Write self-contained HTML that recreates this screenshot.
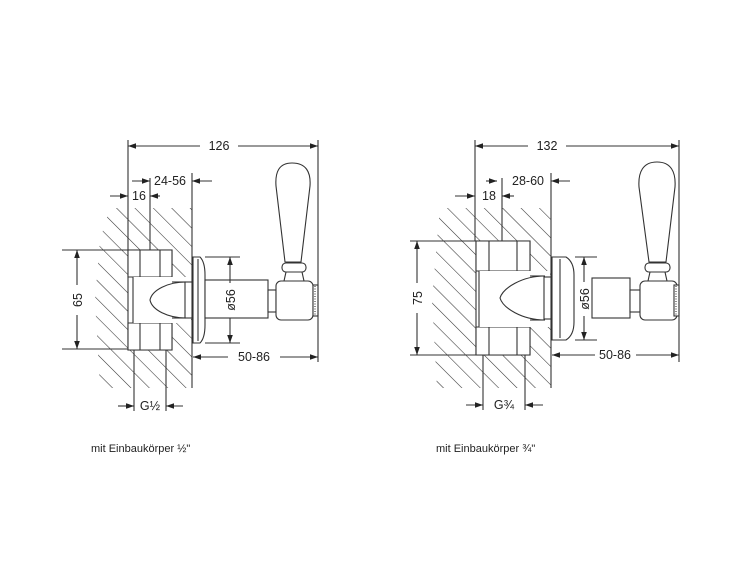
<!DOCTYPE html>
<html><head><meta charset="utf-8"><style>
html,body{margin:0;padding:0;background:#fff;}
svg{display:block;}
text{font-family:"Liberation Sans",Arial,sans-serif;fill:#222;}
</style></head><body>
<svg width="750" height="563" viewBox="0 0 750 563" xmlns="http://www.w3.org/2000/svg">
<defs>
<pattern id="h" patternUnits="userSpaceOnUse" width="13" height="13" patternTransform="rotate(-45)">
<line x1="0" y1="0" x2="0" y2="13" stroke="#333" stroke-width="1.1"/>
</pattern>
<marker id="a" viewBox="0 0 10 10" refX="10" refY="5" markerWidth="8" markerHeight="8" orient="auto-start-reverse" markerUnits="userSpaceOnUse">
<path d="M0,1.5 L10,5 L0,8.5 z" fill="#222"/>
</marker>
</defs>
<g stroke="#333" stroke-width="1.1" fill="none">

<!-- ===== LEFT ===== -->
<polygon points="110,208 192,208 192,388 100,388 95,300 100,240" fill="url(#h)" stroke="none"/>
<line x1="192" y1="173" x2="192" y2="388"/>
<rect x="128" y="250" width="44" height="100" fill="#fff"/>
<path d="M128,250 L172,250 L172,277 L128,277 z M128,323 L172,323 L172,350 L128,350 z" fill="#fff"/>
<path d="M140,250 L140,277 M160,250 L160,277 M140,323 L140,350 M160,323 L160,350"/>
<rect x="133" y="277" width="58" height="46" fill="#fff" stroke="none"/>
<line x1="133" y1="277" x2="133" y2="323"/>
<line x1="172" y1="282" x2="186" y2="282"/><line x1="172" y1="318" x2="186" y2="318"/>
<path d="M186,282 C168,282 152,290 150,300 C152,310 168,318 186,318" fill="#fff"/>
<rect x="185" y="282" width="7" height="36" fill="#fff"/>
<path d="M193,257 L200,257 Q205,262 205,275 L205,325 Q205,338 200,343 L193,343 z" fill="#fff"/>
<line x1="198" y1="259" x2="198" y2="341"/>
<rect x="205" y="280" width="63" height="38" fill="#fff"/>
<rect x="268" y="290" width="8" height="22" fill="#fff"/>
<rect x="276" y="281" width="37" height="39" rx="5" fill="#fff"/>
<rect x="313" y="285" width="5" height="31" fill="#fff"/>
<line x1="315" y1="286" x2="315" y2="315" stroke-dasharray="1,1.5"/>
<path d="M292,163 C279,163 275,172 276,186 L285,262 L301,262 L310,186 C311,172 306,163 292,163 z" fill="#fff"/>
<rect x="282" y="263" width="24" height="9" rx="4" fill="#fff"/>
<path d="M286,272 L284,281 M302,272 L304,281"/>
<line x1="128" y1="140" x2="128" y2="250"/>
<line x1="318" y1="140" x2="318" y2="362"/>
<line x1="128" y1="146" x2="200" y2="146" marker-start="url(#a)"/>
<line x1="238" y1="146" x2="318" y2="146" marker-end="url(#a)"/>
<line x1="150" y1="178" x2="150" y2="250"/>
<line x1="132" y1="181" x2="150" y2="181" marker-end="url(#a)"/>
<line x1="212" y1="181" x2="192" y2="181" marker-end="url(#a)"/>
<line x1="110" y1="196" x2="128" y2="196" marker-end="url(#a)"/>
<line x1="160" y1="196" x2="150" y2="196" marker-end="url(#a)"/>
<line x1="62" y1="250" x2="128" y2="250"/><line x1="62" y1="349" x2="128" y2="349"/>
<line x1="77" y1="250" x2="77" y2="285" marker-start="url(#a)"/>
<line x1="77" y1="315" x2="77" y2="349" marker-end="url(#a)"/>
<line x1="205" y1="257" x2="240" y2="257"/><line x1="205" y1="343" x2="240" y2="343"/>
<line x1="230" y1="257" x2="230" y2="283" marker-start="url(#a)"/>
<line x1="230" y1="318" x2="230" y2="343" marker-end="url(#a)"/>
<line x1="193" y1="357" x2="228" y2="357" marker-start="url(#a)"/>
<line x1="280" y1="357" x2="318" y2="357" marker-end="url(#a)"/>
<line x1="134" y1="350" x2="134" y2="411"/><line x1="166" y1="350" x2="166" y2="411"/>
<line x1="118" y1="406" x2="134" y2="406" marker-end="url(#a)"/>
<line x1="183" y1="406" x2="166" y2="406" marker-end="url(#a)"/>

<!-- ===== RIGHT ===== -->
<polygon points="440,208 551,208 551,388 437,388 432,300 437,240" fill="url(#h)" stroke="none"/>
<line x1="551" y1="173" x2="551" y2="388"/>
<rect x="476" y="241" width="54" height="114" fill="#fff"/>
<path d="M476,241 L530,241 L530,271 L476,271 z M476,327 L530,327 L530,355 L476,355 z" fill="#fff"/>
<path d="M489,241 L489,271 M517,241 L517,271 M489,327 L489,355 M517,327 L517,355"/>
<rect x="479" y="271" width="71" height="56" fill="#fff" stroke="none"/>
<line x1="479" y1="271" x2="479" y2="327"/>
<line x1="530" y1="276" x2="545" y2="276"/><line x1="530" y1="320" x2="545" y2="320"/>
<path d="M545,276 C522,276 503,288 500,298 C503,308 522,320 545,320" fill="#fff"/>
<rect x="544" y="277" width="7" height="42" fill="#fff"/>
<path d="M552,257 L566,257 Q574,262 574,275 L574,322 Q574,335 566,340 L552,340 z" fill="#fff"/>
<line x1="560" y1="259" x2="560" y2="338"/>
<rect x="592" y="278" width="38" height="40" fill="#fff"/>
<rect x="630" y="290" width="10" height="22" fill="#fff"/>
<rect x="640" y="281" width="37" height="39" rx="5" fill="#fff"/>
<rect x="674" y="285" width="5" height="31" fill="#fff"/>
<line x1="676" y1="286" x2="676" y2="315" stroke-dasharray="1,1.5"/>
<path d="M657,162 C643,162 638,172 639,187 L649,262 L666,262 L675,187 C676,172 671,162 657,162 z" fill="#fff"/>
<rect x="645" y="263" width="25" height="9" rx="4" fill="#fff"/>
<path d="M650,272 L648,281 M665,272 L667,281"/>
<line x1="475" y1="140" x2="475" y2="241"/>
<line x1="679" y1="140" x2="679" y2="362"/>
<line x1="475" y1="146" x2="528" y2="146" marker-start="url(#a)"/>
<line x1="566" y1="146" x2="679" y2="146" marker-end="url(#a)"/>
<line x1="502" y1="178" x2="502" y2="241"/>
<line x1="486" y1="181" x2="497" y2="181" marker-end="url(#a)"/>
<line x1="570" y1="181" x2="551" y2="181" marker-end="url(#a)"/>
<line x1="455" y1="196" x2="475" y2="196" marker-end="url(#a)"/>
<line x1="514" y1="196" x2="502" y2="196" marker-end="url(#a)"/>
<line x1="410" y1="241" x2="476" y2="241"/><line x1="410" y1="355" x2="476" y2="355"/>
<line x1="417" y1="241" x2="417" y2="283" marker-start="url(#a)"/>
<line x1="417" y1="313" x2="417" y2="355" marker-end="url(#a)"/>
<line x1="575" y1="257" x2="597" y2="257"/><line x1="575" y1="340" x2="597" y2="340"/>
<line x1="584" y1="257" x2="584" y2="282" marker-start="url(#a)"/>
<line x1="584" y1="316" x2="584" y2="340" marker-end="url(#a)"/>
<line x1="552" y1="355" x2="595" y2="355" marker-start="url(#a)"/>
<line x1="636" y1="355" x2="679" y2="355" marker-end="url(#a)"/>
<line x1="483" y1="355" x2="483" y2="410"/><line x1="525" y1="355" x2="525" y2="410"/>
<line x1="466" y1="405" x2="483" y2="405" marker-end="url(#a)"/>
<line x1="543" y1="405" x2="525" y2="405" marker-end="url(#a)"/>
</g>
<g font-size="12.5">
<text x="219" y="150" text-anchor="middle">126</text>
<text x="170" y="185" text-anchor="middle">24-56</text>
<text x="139" y="200" text-anchor="middle">16</text>
<text transform="translate(82,300) rotate(-90)" text-anchor="middle">65</text>
<text transform="translate(235,300) rotate(-90)" text-anchor="middle">ø56</text>
<text x="254" y="361" text-anchor="middle">50-86</text>
<text x="150" y="410" text-anchor="middle">G½</text>
<text x="547" y="150" text-anchor="middle">132</text>
<text x="528" y="185" text-anchor="middle">28-60</text>
<text x="489" y="200" text-anchor="middle">18</text>
<text transform="translate(422,298) rotate(-90)" text-anchor="middle">75</text>
<text transform="translate(589,299) rotate(-90)" text-anchor="middle">ø56</text>
<text x="615" y="359" text-anchor="middle">50-86</text>
<text x="504" y="409" text-anchor="middle">G¾</text>
</g>
<g font-size="11">
<text x="91" y="452">mit Einbaukörper ½"</text>
<text x="436" y="452">mit Einbaukörper ¾"</text>
</g>
</svg>
</body></html>
